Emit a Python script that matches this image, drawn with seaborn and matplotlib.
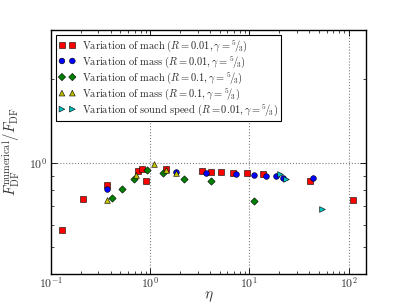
import numpy as np
import pandas as pd
import matplotlib
matplotlib.use("Agg")
import matplotlib.pyplot as plt
import matplotlib.ticker as mticker
import seaborn as sns

# --- data ---
mach_r001_eta = [0.128, 0.209, 0.365, 0.745, 0.824, 0.911, 1.46, 3.3, 4.1, 5.2, 6.84, 9.5, 13.7, 41.3, 110]
mach_r001_f = [0.575, 0.743, 0.832, 0.94, 0.954, 0.86, 0.949, 0.936, 0.928, 0.926, 0.923, 0.918, 0.911, 0.864, 0.735]

mass_r001_eta = [0.365, 1.82, 3.65, 7.35, 11.1, 14.7, 18.5, 21.9, 44.0]
mass_r001_f = [0.807, 0.926, 0.921, 0.913, 0.908, 0.90, 0.898, 0.884, 0.881]

mach_r01_eta = [0.41, 0.52, 0.69, 0.93, 1.36, 2.19, 4.1, 11.1]
mach_r01_f = [0.749, 0.807, 0.879, 0.944, 0.923, 0.879, 0.862, 0.731]

mass_r01_eta = [0.365, 0.727, 1.1, 1.45, 1.82]
mass_r01_f = [0.737, 0.903, 0.99, 0.944, 0.923]

cs_r001_eta = [20.6, 23.3, 54.6]
cs_r001_f = [0.913, 0.876, 0.682]

frac = r"{}^{5}\!/\!{}_{3}"
labels = [
    r"$\mathrm{Variation\ of\ mach}\ (R=0.01, \gamma=" + frac + ")$",
    r"$\mathrm{Variation\ of\ mass}\ (R=0.01, \gamma=" + frac + ")$",
    r"$\mathrm{Variation\ of\ mach}\ (R=0.1, \gamma=" + frac + ")$",
    r"$\mathrm{Variation\ of\ mass}\ (R=0.1, \gamma=" + frac + ")$",
    r"$\mathrm{Variation\ of\ sound\ speed}\ (R=0.01, \gamma=" + frac + ")$",
]

sns.set_style("white")
plt.rcParams["mathtext.fontset"] = "cm"
plt.rcParams["font.family"] = ["DejaVu Serif"]

fig = plt.figure(figsize=(4.07, 3.05), dpi=100)
ax = fig.add_axes([0.1253, 0.1016, 0.7740, 0.8000])

series = [
    (mach_r001_eta, mach_r001_f, "s", (1, 0, 0), 17),
    (mass_r001_eta, mass_r001_f, "o", (0, 0, 1), 17),
    (mach_r01_eta, mach_r01_f, "D", (0, 0.5, 0), 14),
    (mass_r01_eta, mass_r01_f, "^", (0.75, 0.75, 0), 17),
    (cs_r001_eta, cs_r001_f, ">", (0, 0.75, 0.75), 17),
]
for (ex, fy, mk, col, s), lab in zip(series, labels):
    df = pd.DataFrame({"eta": ex, "f": fy})
    sns.scatterplot(data=df, x="eta", y="f", marker=mk, color=col, s=s,
                    edgecolor="black", linewidth=0.4, label=lab, ax=ax, zorder=3)

ax.set_xscale("log")
ax.set_yscale("log")
ax.set_xlim(0.1, 150)
ax.set_ylim(0.4, 3.0)

def sci(v, pos):
    e = int(round(np.log10(v)))
    return r"$10^{%d}$" % e

ax.xaxis.set_major_locator(mticker.LogLocator(base=10))
ax.xaxis.set_minor_locator(mticker.LogLocator(base=10, subs=np.arange(2, 10)))
ax.yaxis.set_major_locator(mticker.LogLocator(base=10))
ax.yaxis.set_minor_locator(mticker.LogLocator(base=10, subs=np.arange(2, 10)))
ax.xaxis.set_major_formatter(mticker.FuncFormatter(sci))
ax.yaxis.set_major_formatter(mticker.FuncFormatter(sci))
ax.xaxis.set_minor_formatter(mticker.NullFormatter())
ax.yaxis.set_minor_formatter(mticker.NullFormatter())

ax.tick_params(which="both", direction="in", top=True, right=True, bottom=True, left=True,
               labelsize=8.5, colors="black", labelcolor="#333333")
ax.tick_params(which="major", length=4, width=0.6, pad=3)
ax.tick_params(axis="x", which="major", pad=1.5)
ax.tick_params(which="minor", length=2, width=0.5)

for sp in ax.spines.values():
    sp.set_color("black")
    sp.set_linewidth(1.0)

ax.grid(True, which="major", linestyle=":", color="0.5", linewidth=0.8)
ax.grid(False, which="minor")
ax.set_axisbelow(True)

ax.set_xlabel(r"$\eta$", fontsize=11, color="#333333", labelpad=-1)
ax.set_ylabel(r"$F_{\mathrm{DF}}^{\mathrm{numerical}}/F_{\mathrm{DF}}$", fontsize=10.5,
              color="#333333", labelpad=4)

leg = ax.legend(loc="upper left", scatterpoints=2, fontsize=7.5, frameon=True, fancybox=False,
                borderpad=0.3, labelspacing=0.02, handletextpad=0.6, borderaxespad=0.45,
                scatteryoffsets=[0.5], handlelength=1.6)
leg.get_frame().set_edgecolor("black")
leg.get_frame().set_linewidth(0.8)
leg.get_frame().set_alpha(1.0)

fig.savefig("out.png", dpi=100, facecolor="white")
